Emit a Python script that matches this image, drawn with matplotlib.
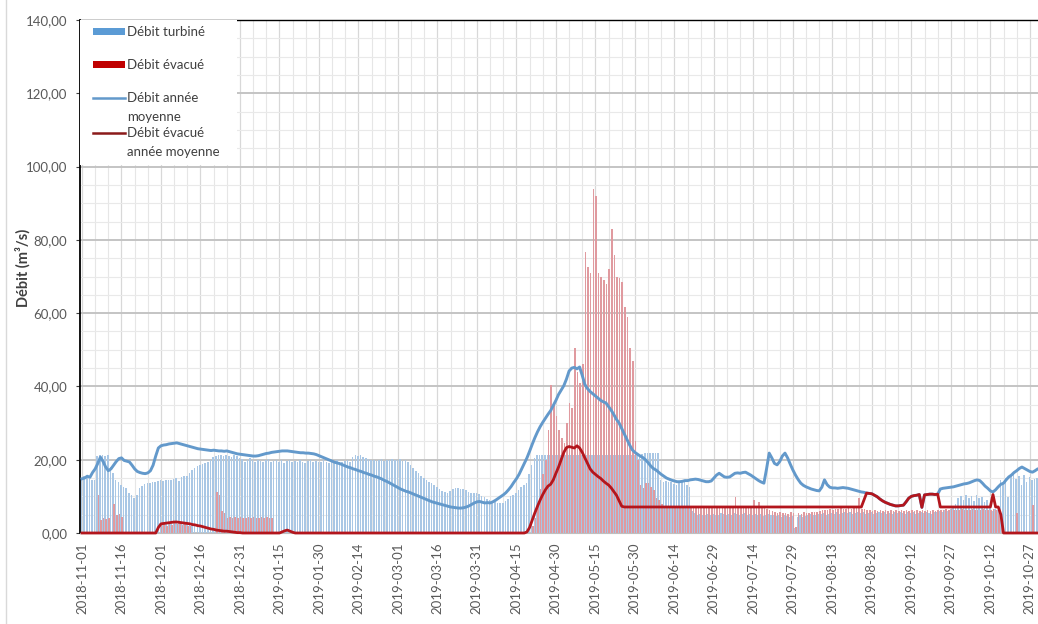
import numpy as np
import pandas as pd
import matplotlib
matplotlib.use('Agg')
import matplotlib.pyplot as plt
from matplotlib.patches import Rectangle
from matplotlib.lines import Line2D

plt.rcParams['font.family'] = ['Lato', 'DejaVu Sans']

# Donnees journalieres 2018-11-01 -> 2019-10-31
dates = pd.date_range('2018-11-01', '2019-10-31', freq='D')

# Debit turbine (m3/s), barres bleues
turbine = [
    15.0, 15.5, 15.0, 14.8, 14.5, 14.5, 21.0, 21.3, 21.3, 21.0, 21.3, 18.0, 16.5, 14.5, 14.0,   # 11-01
    13.0, 12.6, 12.3, 11.0, 10.3, 9.6, 10.5, 12.3, 12.8, 13.3, 13.6, 13.6, 13.8, 14.0, 14.3,    # 11-16
    14.5, 14.3, 14.5, 14.6, 14.4, 14.8, 15.0, 14.2, 15.2, 15.5, 15.6, 16.5, 17.2, 17.8, 18.3,   # 12-01
    18.6, 18.9, 19.0, 19.3, 20.0, 20.8, 21.0, 21.3, 21.2, 21.0, 21.3, 21.0, 20.8, 21.2, 21.0,   # 12-16
    20.6, 20.2, 19.5, 19.8, 20.4, 19.8, 19.5, 20.0, 19.6, 19.3, 19.8, 20.2, 19.4, 19.6, 20.0,   # 12-31
    19.5, 19.8, 19.2, 19.6, 20.0, 19.4, 19.7, 19.3, 19.8, 19.5, 19.2, 19.6, 19.9, 19.4, 19.7,   # 01-15
    19.5, 19.3, 19.8, 19.5, 19.2, 19.6, 19.4, 19.8, 19.5, 19.3, 19.6, 20.0, 19.5, 20.8, 21.2,   # 01-30
    21.0, 21.3, 20.8, 20.5, 20.2, 19.8, 20.0, 19.6, 19.9, 20.2, 19.7, 20.0, 19.8, 20.3, 20.0,   # 02-14
    19.8, 20.1, 19.6, 19.9, 19.4, 18.6, 17.8, 17.0, 16.3, 15.6, 15.0, 14.4, 13.9, 13.6, 13.0,   # 03-01
    12.5, 12.0, 11.5, 11.2, 10.9, 11.5, 12.0, 12.3, 12.3, 12.1, 11.9, 11.6, 11.3, 11.0, 10.9,   # 03-16
    10.9, 10.7, 10.2, 9.8, 9.4, 9.0, 8.8, 8.5, 8.3, 8.2, 8.2, 8.6, 9.3, 10.0, 10.4,             # 03-31
    11.0, 11.7, 12.5, 13.0, 13.6, 16.0, 18.6, 20.5, 21.3, 21.3, 21.3, 21.3, 21.3, 21.3, 21.3,   # 04-15
] + [21.3] * 30 + [                                                                            # 04-30, 05-15
    21.3, 21.3, 21.3, 21.5, 21.8, 21.8, 21.8, 21.8, 21.8, 21.8, 14.5, 14.0, 14.2, 13.8, 14.0,   # 05-30
    13.5, 13.0, 14.0, 14.5, 14.0, 13.0, 12.5, 6.0, 5.5, 5.0, 5.2, 4.8, 5.0, 5.3, 4.9,           # 06-14
    5.2, 5.0, 4.8, 5.4, 5.1, 4.9, 5.3, 5.0, 5.5, 5.2, 4.8, 5.1, 5.4, 5.0, 5.2,                  # 06-29
    5.0, 5.3, 4.9, 5.1, 4.7, 5.0, 5.2, 4.8, 5.0, 4.6, 4.9, 4.5, 4.8, 4.6, 4.4,                  # 07-14
    4.6, 1.4, 4.5, 4.8, 4.4, 4.7, 4.9, 5.1, 4.8, 5.0, 5.3, 5.1, 5.4, 5.0, 5.2,                  # 07-29
    5.5, 5.3, 5.6, 5.2, 5.5, 5.7, 5.4, 5.6, 5.3, 5.5, 5.8, 5.4, 5.6, 5.3, 5.5,                  # 08-13
    5.6, 5.3, 5.5, 5.7, 5.4, 5.6, 5.2, 5.5, 5.3, 5.6, 5.4, 5.7, 5.5, 5.3, 5.6,                  # 08-28
    5.4, 5.6, 5.3, 5.5, 5.7, 5.4, 5.6, 5.5, 5.3, 5.6, 5.8, 6.0, 5.8, 6.2, 6.0,                  # 09-12
    6.5, 7.0, 8.0, 9.5, 10.2, 9.0, 10.4, 9.6, 10.0, 8.8, 10.4, 9.5, 9.8, 8.5, 9.0,              # 09-27
    7.0, 6.0, 6.5, 6.2, 14.5, 13.6, 15.0, 9.8, 15.5, 16.0, 14.8, 15.5, 13.0, 15.8, 14.0,        # 10-12
    15.2, 14.5, 14.8, 15.0, 15.5,                                                              # 10-27
]

# Debit evacue (m3/s), barres rouges
evacue = [
    0, 0, 0, 0, 0, 0, 10.4, 3.5, 4.0, 3.8, 4.2, 0, 8.0, 5.0, 5.2,                             # 11-01
    4.5, 0, 0, 0, 0, 0, 0, 0, 0, 0, 0, 0, 0, 0, 0,                                           # 11-16
    2.2, 2.5, 2.0, 2.6, 2.3, 2.8, 2.4, 2.6, 2.2, 2.5, 2.0, 1.8, 0, 0, 0,                      # 12-01
    0, 0, 0, 0, 0, 0, 11.2, 10.5, 6.0, 5.5, 4.2, 4.4, 4.0, 4.3, 4.1,                          # 12-16
    4.4, 4.2, 4.0, 4.3, 4.1, 4.4, 4.2, 4.0, 4.3, 4.1, 4.4, 4.2, 4.0, 0, 0,                    # 12-31
] + [0] * 90 + [                                                                           # 01-15 .. 03-31
    0, 0, 0, 0, 0, 0, 2.0, 4.0, 8.0, 12.0, 16.0, 20.0, 28.0, 40.5, 35.5,                      # 04-15
    32.0, 28.0, 26.0, 24.5, 30.0, 35.5, 34.0, 50.5, 44.0, 41.0, 46.0, 76.7, 72.6, 71.0, 94.0,  # 04-30
    92.0, 71.0, 70.0, 69.0, 68.0, 72.0, 83.0, 76.0, 70.0, 69.5, 68.5, 61.7, 59.0, 50.5, 47.0,  # 05-15
    25.0, 20.0, 13.0, 12.3, 13.6, 13.6, 12.5, 11.7, 9.5, 9.0, 8.0, 7.2, 7.0, 6.8, 7.1,         # 05-30
    6.9, 7.0, 6.8, 7.1, 6.9, 7.0, 6.8, 6.9, 7.0, 6.7, 6.9, 7.1, 6.8, 6.9, 7.0,                 # 06-14
    6.8, 6.9, 7.0, 6.7, 6.9, 7.1, 6.8, 6.9, 9.8, 6.8, 6.9, 7.0, 6.7, 6.9, 6.8,                 # 06-29
    9.0, 6.8, 8.4, 6.7, 6.9, 6.5, 6.3, 6.0, 5.8, 5.5, 5.6, 5.4, 5.5, 5.3, 5.6,                 # 07-14
    5.4, 1.6, 5.5, 5.3, 5.6, 5.4, 5.5, 5.7, 5.6, 5.8, 6.0, 6.2, 6.4, 6.3, 6.5,                 # 07-29
    6.4, 6.6, 6.5, 6.7, 6.6, 6.5, 6.7, 6.6, 6.8, 6.7, 9.5, 6.6, 6.5, 6.3, 6.2,                 # 08-13
    6.0, 6.2, 6.1, 6.3, 6.0, 6.2, 6.1, 6.3, 6.0, 6.2, 6.1, 6.3, 6.0, 6.2, 6.1,                 # 08-28
    6.3, 6.0, 6.2, 6.1, 6.3, 6.0, 6.2, 6.1, 6.3, 6.0, 6.2, 6.4, 6.3, 6.5, 6.4,                 # 09-12
    6.5, 6.3, 6.4, 6.2, 6.5, 6.3, 6.4, 6.2, 6.5, 6.3, 6.4, 6.2, 6.5, 6.3, 6.4,                 # 09-27
    6.2, 6.5, 6.3, 6.0, 3.0, 0, 0, 0, 0, 0, 5.5, 0, 0, 0, 0,                                  # 10-12
    0, 7.6, 0, 0, 0,                                                                         # 10-27
]

# Debit annee moyenne (ligne bleue)
debit_moyen = [
    14.8, 15.0, 15.5, 15.2, 16.5, 17.5, 19.0, 20.7, 19.5, 18.0, 17.0, 17.5, 18.5, 19.5, 20.3,  # 11-01
    20.5, 19.8, 19.6, 19.4, 18.5, 17.5, 16.8, 16.5, 16.3, 16.2, 16.4, 17.0, 18.5, 21.0, 23.2,  # 11-16
    23.8, 24.0, 24.1, 24.3, 24.4, 24.5, 24.6, 24.4, 24.2, 24.0, 23.8, 23.6, 23.4, 23.2, 23.0,  # 12-01
    22.9, 22.8, 22.7, 22.6, 22.5, 22.6, 22.5, 22.4, 22.4, 22.3, 22.4, 22.2, 22.0, 21.8, 21.6,  # 12-16
    21.5, 21.4, 21.3, 21.2, 21.1, 21.0, 21.0, 21.1, 21.3, 21.5, 21.7, 21.8, 22.0, 22.1, 22.2,  # 12-31
    22.3, 22.4, 22.4, 22.4, 22.3, 22.2, 22.1, 22.0, 21.9, 21.9, 21.8, 21.8, 21.7, 21.6, 21.4,  # 01-15
    21.1, 20.8, 20.5, 20.2, 19.9, 19.6, 19.3, 19.1, 18.9, 18.6, 18.3, 18.0, 17.8, 17.5, 17.3,  # 01-30
    17.0, 16.8, 16.5, 16.3, 16.0, 15.8, 15.5, 15.3, 15.0, 14.7, 14.3, 14.0, 13.6, 13.2, 12.8,  # 02-14
    12.4, 12.0, 11.7, 11.4, 11.2, 10.9, 10.6, 10.3, 10.0, 9.7, 9.4, 9.1, 8.8, 8.5, 8.3,        # 03-01
    8.1, 7.9, 7.7, 7.5, 7.3, 7.1, 7.0, 6.9, 6.8, 6.8, 6.9, 7.1, 7.4, 7.8, 8.2,                 # 03-16
    8.5, 8.6, 8.4, 8.2, 8.3, 8.2, 8.5, 8.9, 9.4, 9.9, 10.4, 11.0, 11.8, 12.7, 13.8,            # 03-31
    14.8, 16.0, 17.5, 19.0, 20.5, 22.3, 24.2, 26.0, 27.6, 29.0, 30.2, 31.3, 32.4, 33.4, 34.8,  # 04-15
    36.2, 37.8, 39.0, 40.2, 42.0, 44.2, 45.0, 45.2, 44.8, 45.3, 43.0, 40.5, 39.4, 38.6, 38.0,  # 04-30
    37.4, 36.8, 36.2, 35.8, 35.5, 34.5, 33.5, 32.3, 31.0, 30.0, 28.5, 27.0, 25.5, 24.0, 22.7,  # 05-15
    22.0, 21.5, 21.0, 20.6, 20.0, 19.2, 18.3, 17.6, 17.2, 16.6, 16.0, 15.5, 15.0, 14.7, 14.4,  # 05-30
    14.2, 14.0, 14.0, 14.1, 14.3, 14.3, 14.5, 14.6, 14.7, 14.6, 14.4, 14.2, 14.0, 14.0, 14.2,  # 06-14
    15.0, 15.8, 16.3, 15.8, 15.3, 15.2, 15.3, 15.8, 16.3, 16.4, 16.3, 16.5, 16.6, 16.2, 15.8,  # 06-29
    15.3, 14.8, 14.3, 13.9, 13.6, 17.5, 21.8, 20.5, 19.0, 18.6, 19.5, 21.0, 21.8, 20.5, 18.8,  # 07-14
    17.2, 15.8, 14.6, 13.6, 13.0, 12.6, 12.3, 12.0, 11.8, 11.6, 11.5, 12.5, 14.5, 13.2, 12.5,  # 07-29
    12.3, 12.3, 12.2, 12.3, 12.4, 12.3, 12.2, 12.0, 11.8, 11.6, 11.4, 11.2, 11.1, 10.9, 10.8,  # 08-13
    10.7, 10.3, 9.9, 9.3, 8.8, 8.4, 8.1, 7.8, 7.6, 7.4, 7.4, 7.5, 7.6, 8.5, 9.5,               # 08-28
    10.0, 10.2, 10.3, 10.5, 7.0, 10.4, 10.5, 10.6, 10.6, 10.5, 10.6, 12.0, 12.2, 12.3, 12.4,   # 09-12
    12.5, 12.6, 12.8, 13.0, 13.2, 13.4, 13.5, 13.7, 14.0, 14.3, 14.5, 14.3, 13.6, 12.8, 12.2,  # 09-27
    11.5, 11.2, 11.8, 12.6, 13.3, 13.6, 14.5, 15.3, 15.8, 16.5, 17.0, 17.6, 18.0, 17.6, 17.2,  # 10-12
    16.8, 16.6, 17.0, 17.5, 17.5,                                                              # 10-27
]

# Debit evacue annee moyenne (ligne rouge)
evacue_moyen = [0] * 29 + [
    1.5,                                                                                       # 11-30
    2.5, 2.6, 2.7, 2.8, 2.9, 3.0, 3.0, 2.9, 2.8, 2.7, 2.6, 2.5, 2.3, 2.2, 2.0,                  # 12-01
    1.9, 1.7, 1.5, 1.3, 1.1, 1.0, 0.8, 0.7, 0.6, 0.5, 0.5, 0.4, 0.3, 0.2, 0.1,                  # 12-16
    0.1, 0, 0, 0, 0, 0, 0, 0, 0, 0, 0, 0, 0, 0, 0,                                            # 12-31
    0, 0.3, 0.6, 0.8, 0.5, 0.2, 0, 0, 0, 0, 0, 0, 0, 0, 0,                                    # 01-15
] + [0] * 75 + [                                                                            # 01-30 .. 03-31
    0, 0, 0, 0, 0.3, 1.5, 3.5, 5.5, 7.3, 9.0, 10.5, 11.8, 12.8, 13.3, 14.5,                   # 04-15
    16.3, 18.0, 20.0, 22.0, 23.3, 23.6, 23.4, 23.2, 23.8, 23.2, 22.0, 20.5, 19.0, 17.5, 16.6,  # 04-30
    16.0, 15.4, 14.9, 14.2, 13.6, 13.1, 12.3, 11.3, 10.3, 8.8, 7.3, 7.1, 7.1, 7.1, 7.1,        # 05-15
] + [7.1] * 87 + [                                                                         # 05-30 .. 08-24
    9.0, 10.9, 10.8,                                                                         # 08-25
    10.7, 10.3, 9.9, 9.3, 8.8, 8.4, 8.1, 7.8, 7.6, 7.4, 7.4, 7.5, 7.6, 8.5, 9.5,              # 08-28
    10.0, 10.2, 10.3, 10.5, 7.0, 10.4, 10.5, 10.6, 10.6, 10.5, 10.6, 7.1, 7.1, 7.1, 7.1,       # 09-12
] + [7.1] * 15 + [                                                                         # 09-27
    7.1, 10.5, 7.1, 7.1, 5.0, 0, 0, 0, 0, 0, 0, 0, 0, 0, 0,                                   # 10-12
    0, 0, 0, 0, 0,                                                                           # 10-27
]

for serie in (turbine, evacue, debit_moyen, evacue_moyen):
    assert len(serie) == len(dates), len(serie)

jours = np.arange(len(dates))
ticks = jours[::15]
tick_labels = [d.strftime('%Y-%m-%d') for d in dates[::15]]

W, H = 1038, 624
fig = plt.figure(figsize=(W / 100, H / 100), dpi=100)
ax_l, ax_t, ax_r, ax_b = 80, 20, 1038, 533
ax = fig.add_axes([ax_l / W, 1 - ax_b / H, (ax_r - ax_l) / W, (ax_b - ax_t) / H])

ax.bar(jours - 0.2, turbine, width=0.6, color='#a9c7e5', linewidth=0, zorder=2)
ax.bar(jours + 0.2, evacue, width=0.6, color='#e09a9f', linewidth=0, zorder=2)
ax.plot(jours, debit_moyen, color='#6399cb', lw=2.1, zorder=3, clip_on=False)
ax.plot(jours, evacue_moyen, color='#b3161d', lw=2.0, zorder=4, clip_on=False)

ax.set_xlim(-0.76, 363.1)
ax.set_ylim(0, 140)
ax.set_axisbelow(True)

ax.set_yticks(np.arange(0, 141, 20))
ax.set_yticks(np.arange(0, 141, 5), minor=True)
ax.set_yticklabels([f'{v:.2f}'.replace('.', ',') for v in np.arange(0, 141, 20)])
ax.set_xticks(ticks)
ax.set_xticks(jours[::5], minor=True)
ax.set_xticklabels(tick_labels, rotation=90)

ax.grid(which='major', axis='y', color='#c4c4c4', lw=1.4)
ax.grid(which='minor', axis='y', color='#e9e9e9', lw=0.8)
ax.grid(which='major', axis='x', color='#d8d8d8', lw=0.9)
ax.grid(which='minor', axis='x', color='#e6e6e6', lw=0.8)

ax.tick_params(axis='x', which='both', length=0, pad=7, labelsize=9.5, labelcolor='#595959')
ax.tick_params(axis='y', which='major', length=3, pad=6, labelsize=9.5, labelcolor='#595959', color='#404040')
ax.tick_params(axis='y', which='minor', length=0)

ax.spines['right'].set_visible(False)
ax.spines['left'].set_color('black')
ax.spines['left'].set_linewidth(1.3)
ax.spines['top'].set_color('black')
ax.spines['top'].set_linewidth(1.0)
ax.spines['bottom'].set_color('#bfbfbf')

ax.set_ylabel('Débit (m³/s)', fontsize=10.5, fontweight='bold', color='#404040')
ax.yaxis.set_label_coords((31 - ax_l) / (ax_r - ax_l), 0.517)

# Legende (boite blanche en haut a gauche)
def fx(px):
    return (px - ax_l) / (ax_r - ax_l)

def fy(py):
    return (ax_b - py) / (ax_b - ax_t)

ax.add_patch(Rectangle((0, fy(165)), fx(237), 1 - fy(165), transform=ax.transAxes,
                       facecolor='white', edgecolor='none', zorder=5))
leg_txt = dict(transform=ax.transAxes, fontsize=9.5, color='#404040', va='center', ha='left', zorder=7)
ax.add_patch(Rectangle((fx(93), fy(35)), fx(125) - fx(93), fy(28) - fy(35), transform=ax.transAxes,
                       facecolor='#5b9bd5', edgecolor='none', zorder=6))
ax.text(fx(127), fy(32), 'Débit turbiné', **leg_txt)
ax.add_patch(Rectangle((fx(93), fy(68)), fx(125) - fx(93), fy(61) - fy(68), transform=ax.transAxes,
                       facecolor='#c00000', edgecolor='none', zorder=6))
ax.text(fx(127), fy(65), 'Débit évacué', **leg_txt)
ax.add_line(Line2D([fx(93), fx(125)], [fy(98), fy(98)], transform=ax.transAxes,
                   color='#6399cb', lw=1.8, zorder=6))
ax.text(fx(127), fy(98), 'Débit année', **leg_txt)
ax.text(fx(127), fy(117), 'moyenne', **leg_txt)
ax.add_line(Line2D([fx(93), fx(125)], [fy(133), fy(133)], transform=ax.transAxes,
                   color='#8b1a1a', lw=1.8, zorder=6))
ax.text(fx(127), fy(133), 'Débit évacué', **leg_txt)
ax.text(fx(127), fy(152), 'année moyenne', **leg_txt)

# bord gris de la capture a gauche
fig.add_artist(Line2D([6 / W, 6 / W], [0, 1], transform=fig.transFigure, color='#d9d9d9', lw=1))

fig.savefig('out.png', dpi=100, facecolor='white')
